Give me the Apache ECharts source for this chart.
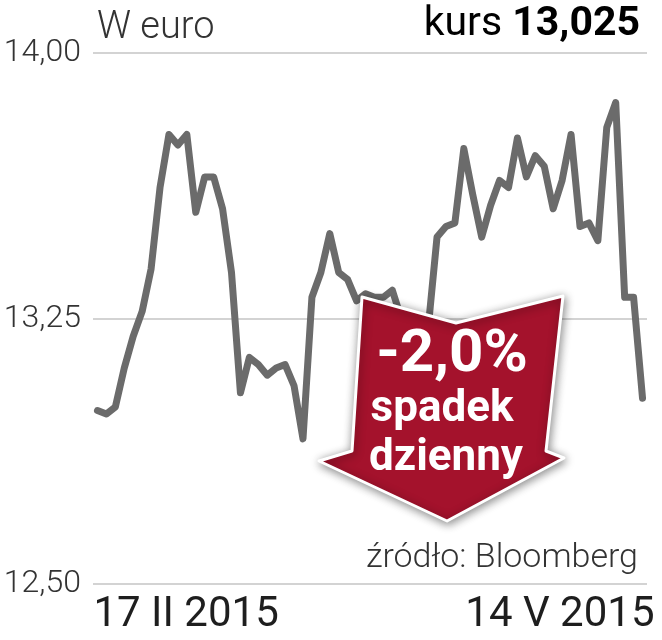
<!DOCTYPE html>
<html><head><meta charset="utf-8">
<script src="https://cdn.jsdelivr.net/npm/echarts@6/dist/echarts.min.js"></script>
<style>html,body{margin:0;padding:0;background:#fff}#c{width:662px;height:640px}</style>
</head><body><div id="c"></div>
<script>
// daily closing price, 17 II 2015 – 14 V 2015 (EUR)
const prices = [12.99, 12.98, 13.00, 13.11, 13.20, 13.27, 13.39, 13.62, 13.77, 13.74,
  13.77, 13.55, 13.65, 13.65, 13.56, 13.38, 13.04, 13.14, 13.12, 13.09,
  13.11, 13.12, 13.06, 12.91, 13.31, 13.38, 13.49, 13.38, 13.36, 13.30,
  13.32, 13.31, 13.31, 13.33, 13.25, 13.20, 13.18, 13.22, 13.48, 13.51,
  13.52, 13.73, 13.60, 13.48, 13.57, 13.64, 13.62, 13.76, 13.65, 13.71,
  13.68, 13.56, 13.64, 13.77, 13.51, 13.52, 13.47, 13.79, 13.86, 13.31,
  13.31, 13.025];
const categories = prices.map((_, i) => String(i));
const xTickLabels = ['17 II 2015', '14 V 2015'];
const yMin = 12.5, yMax = 14.0, yStep = 0.75;
const unitLabel = 'W euro';
const lastLabel = 'kurs ';
const lastValue = '13,025';
const sourceLabel = 'źródło: Bloomberg';
const badgeLines = ['-2,0%', 'spadek', 'dzienny'];

const FONT = 'Roboto, "Liberation Sans", sans-serif';
const chart = echarts.init(document.getElementById('c'), null, {renderer: 'canvas'});
const last = categories.length - 1;
const option = {
  animation: false,
  backgroundColor: '#fff',
  grid: {left: 93, right: 15, top: 53, bottom: 56},
  xAxis: {
    type: 'category', data: categories, boundaryGap: true,
    axisLine: {show: false}, axisTick: {show: false}, splitLine: {show: false},
    axisLabel: {
      interval: (i) => i === 0 || i === last,
      formatter: (v, i) => i === 0 ? '{l|' + xTickLabels[0] + '}' : '{r|' + xTickLabels[1] + '}',
      margin: 10,
      alignMinLabel: 'left', alignMaxLabel: 'right',
      rich: {
        l: {fontFamily: FONT, fontSize: 42, fontWeight: 400, color: '#1e1e1e', padding: [0, 0, 0, -4]},
        r: {fontFamily: FONT, fontSize: 42, fontWeight: 400, color: '#1e1e1e', padding: [0, -12, 0, 0]}
      }
    }
  },
  yAxis: {
    type: 'value', min: yMin, max: yMax, interval: yStep,
    axisLine: {show: false}, axisTick: {show: false},
    axisLabel: {formatter: v => v.toFixed(2).replace('.', ','), fontFamily: FONT, fontSize: 32, fontWeight: 300, color: '#333', margin: 12},
    splitLine: {lineStyle: {color: '#c4c4c4', width: 1.5}}
  },
  series: [{
    type: 'line', data: prices, symbol: 'none', silent: true,
    lineStyle: {color: '#6b6b6b', width: 7, join: 'round', cap: 'round'}
  }],
  graphic: [
    {type: 'text', z: 50, style: {text: unitLabel, x: 97, y: 28, fill: '#333', font: '300 38px ' + FONT, textAlign: 'left', textVerticalAlign: 'middle', verticalAlign: 'middle'}},
    {type: 'text', z: 50, style: {
      text: '{a|' + lastLabel + '}{b|' + lastValue + '}', x: 640, y: 25, textAlign: 'right', textVerticalAlign: 'middle', verticalAlign: 'middle',
      rich: {a: {fontFamily: FONT, fontSize: 41, fontWeight: 400, color: '#222'}, b: {fontFamily: FONT, fontSize: 41, fontWeight: 700, color: '#222'}}
    }},
    {type: 'text', z: 50, style: {text: sourceLabel, x: 638, y: 558, fill: '#333', font: '300 34px ' + FONT, textAlign: 'right', textVerticalAlign: 'middle', verticalAlign: 'middle'}},
    {type: 'polygon', z: 100, shape: {points: [[362, 297], [456, 323], [563, 296], [546, 451], [564, 458], [447, 521], [319, 461], [352, 451]]},
      style: {fill: '#a4122c', stroke: '#fff', lineWidth: 3, lineJoin: 'round', shadowBlur: 10, shadowColor: 'rgba(0,0,0,0.45)', shadowOffsetX: 1, shadowOffsetY: 2}},
    {type: 'text', z: 101, style: {text: badgeLines[0], x: 452, y: 356, fill: '#fff', font: 'bold 60px ' + FONT, textAlign: 'center', textVerticalAlign: 'middle', verticalAlign: 'middle'}},
    {type: 'text', z: 101, style: {text: badgeLines[1], x: 442, y: 410, fill: '#fff', font: 'bold 44px ' + FONT, textAlign: 'center', textVerticalAlign: 'middle', verticalAlign: 'middle'}},
    {type: 'text', z: 101, style: {text: badgeLines[2], x: 446, y: 459, fill: '#fff', font: 'bold 44px ' + FONT, textAlign: 'center', textVerticalAlign: 'middle', verticalAlign: 'middle'}}
  ]
};
chart.setOption(option);
</script></body></html>
